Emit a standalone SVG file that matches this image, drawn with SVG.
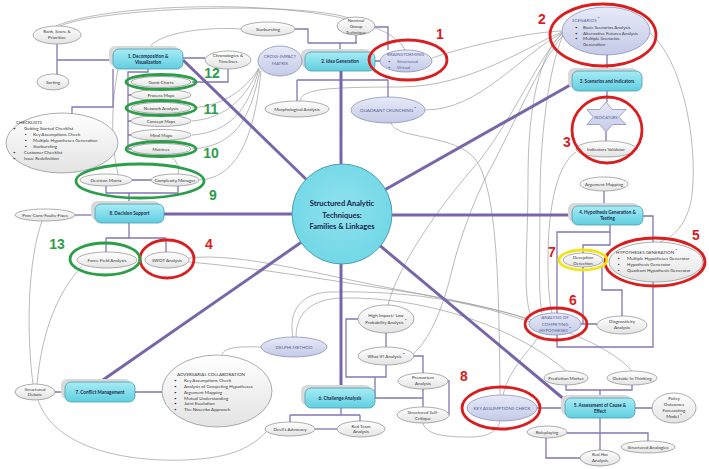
<svg xmlns="http://www.w3.org/2000/svg" width="709" height="469" viewBox="0 0 709 469">
<defs>
<linearGradient id="gc" x1="0" y1="0" x2="0" y2="1"><stop offset="0" stop-color="#a8ecf5"/><stop offset="1" stop-color="#60cee0"/></linearGradient>
<radialGradient id="gcc" cx="0.5" cy="0.45" r="0.6"><stop offset="0" stop-color="#8fe2ee"/><stop offset="1" stop-color="#6fd6e6"/></radialGradient>
<linearGradient id="gw" x1="0" y1="0" x2="0" y2="1"><stop offset="0" stop-color="#ffffff"/><stop offset="1" stop-color="#e3e3e3"/></linearGradient>
<linearGradient id="gl" x1="0" y1="0" x2="0" y2="1"><stop offset="0" stop-color="#e8eaf8"/><stop offset="1" stop-color="#c4cae7"/></linearGradient>
<style>
.fam{fill:url(#gc);stroke:#4c9db0;stroke-width:0.8}
.sh{fill:#d9d9d9}
.ft{font-family:Lato,'Liberation Sans',sans-serif;font-weight:bold;font-size:4.6px;fill:#1b2a4e;text-anchor:middle}
.w{fill:url(#gw);stroke:#8a8a8a;stroke-width:0.7}
.lv{fill:url(#gl);stroke:#7f86ad;stroke-width:0.7}
.t{font-family:Lato,'Liberation Sans',sans-serif;font-size:4.5px;fill:#3a3a3a;text-anchor:middle}
.tl{font-family:Lato,'Liberation Sans',sans-serif;font-size:4.5px;fill:#3a3a3a}
.tb{font-family:Lato,'Liberation Sans',sans-serif;font-size:4.5px;fill:#55649c;text-anchor:middle}
.tbl{font-family:Lato,'Liberation Sans',sans-serif;font-size:4.5px;fill:#55649c}
.sp{stroke:#7866a8;stroke-width:3;fill:none}
.pc{stroke:#8575b3;stroke-width:1.3;fill:none}
.gcv{stroke:#9c9c9c;stroke-width:0.7;fill:none}
.red{fill:none;stroke:#d81e1e;stroke-width:2.8}
.grn{fill:none;stroke:#2c9e4a;stroke-width:2.8}
.yel{fill:none;stroke:#efe31a;stroke-width:2.8}
.rn{font-family:'Liberation Sans',sans-serif;font-weight:bold;font-size:14px;fill:#d81e1e;text-anchor:middle}
.gn{font-family:'Liberation Sans',sans-serif;font-weight:bold;font-size:14px;fill:#2c9e4a;text-anchor:middle}
.ct{font-family:Lato,'Liberation Sans',sans-serif;font-weight:bold;font-size:7.5px;fill:#16244a;text-anchor:middle}
.st{font-weight:bold;fill:#111}
</style>
</defs>
<rect width="709" height="469" fill="#ffffff"/>

<g id="connectors">
<g id="cross-links">
<path class="gcv" d="M60,26 C110,6 300,2 349,18"/>
<path class="gcv" d="M56,26 C120,-2 380,-4 405,50"/>
<path class="gcv" d="M148,49 C160,30 215,27 241,29"/>
<path class="gcv" d="M432,58 C470,45 530,32 562,31"/>
<path class="gcv" d="M300,101 C302,90 320,87 400,87 C470,87 530,45 562,32"/>
<path class="gcv" d="M425,110 C480,110 520,55 562,33"/>
<path class="gcv" d="M391,123 C396,140 455,133 476,160 C496,190 499,270 500,395"/>
<path class="gcv" d="M562,33 C535,60 528,120 528,180 C528,250 522,290 531,317"/>
<path class="gcv" d="M563,35 C548,70 540,140 540,200 C540,260 538,290 542,313"/>
<path class="gcv" d="M650,33 C682,60 698,140 692,195 C688,225 672,238 660,242"/>
<path class="gcv" d="M576,152 C556,165 548,210 548,260 C548,290 550,305 552,313"/>
<path class="gcv" d="M259,68 C245,90 225,105 192,108"/>
<path class="gcv" d="M259,68 C245,100 225,118 192,121"/>
<path class="gcv" d="M259,69 C248,110 230,132 192,135"/>
<path class="gcv" d="M260,70 C250,120 235,146 192,149"/>
<path class="gcv" d="M261,71 C255,130 240,178 199,180"/>
<path class="gcv" d="M118,69 C110,110 112,150 118,174"/>
<path class="gcv" d="M168,154 C176,160 180,166 178,174"/>
<path class="gcv" d="M189,258 C240,252 320,275 400,290 C460,302 505,310 529,320"/>
<path class="gcv" d="M293,337 C288,312 300,293 330,292 C420,290 480,305 530,322"/>
<path class="gcv" d="M296,337 C296,318 306,300 340,298 C430,296 520,330 566,371"/>
<path class="gcv" d="M189,262 C260,268 340,282 420,294 C510,310 600,335 632,371"/>
<path class="gcv" d="M33,384 C26,330 28,260 42,221"/>
<path class="gcv" d="M37,384 C42,330 58,292 82,266"/>
<path class="gcv" d="M38,400 C55,450 130,462 185,460 C235,458 252,446 266,432"/>
<path class="gcv" d="M222,356 C222,348 236,346 261,347"/>
<path class="gcv" d="M423,423 C426,435 445,437 470,437 C490,437 498,430 500,421"/>
<path class="gcv" d="M388,305 C398,265 440,205 480,160 C515,115 540,55 562,34"/>
<path class="gcv" d="M413,354 C432,338 445,300 452,270 C462,230 478,190 495,160 C518,115 542,60 563,35"/>
<path class="gcv" d="M503,395 C508,370 530,350 540,335"/>
</g>
<g id="tree-links">
<path class="pc" d="M57,44 V75 M57,60 H113"/>
<path class="pc" d="M183,58 H205 M228,69 V82 H192"/>
<path class="pc" d="M148,69 V72 H128 V149 M128,95 H131 M128,121 H131 M128,135 H131 M128,149 H131"/>
<path class="pc" d="M113,69 V107 H72 V114"/>
<path class="pc" d="M132,180 H151 M106,186 V193 H178 V186 M129,193 V204"/>
<path class="pc" d="M75,215 H95"/>
<path class="pc" d="M129,223 V238 M106,238 H166 M106,238 V252 M166,238 V252"/>
<path class="pc" d="M295,29 H308 V43 M308,43 H357 M356,35 V43 M340,43 V52"/>
<path class="pc" d="M375,27 H388 V50"/>
<path class="pc" d="M302,61 H305 M375,61 H380"/>
<path class="pc" d="M297,80 H388 M297,80 V101 M388,80 V97"/>
<path class="pc" d="M607,55 V71 M607,91 V102 M606,132 V141"/>
<path class="pc" d="M604,191 V206"/>
<path class="pc" d="M643,216 H653 V242"/>
<path class="pc" d="M610,225 V232 H557 V347 H653 V282"/>
<path class="pc" d="M610,232 V245 H583 V253"/>
<path class="pc" d="M583,267 V324 M581,324 H597"/>
<path class="pc" d="M602,266 V290 H622 V316"/>
<path class="pc" d="M566,385 V390 H632 V385 M600,390 V398"/>
<path class="pc" d="M537,408 H565 M635,408 H652"/>
<path class="pc" d="M600,418 V450"/>
<path class="pc" d="M567,433 H648 V441"/>
<path class="pc" d="M546,438 V458 H580"/>
<path class="pc" d="M341,408 V415 M290,415 H360 M290,415 V422 M360,415 V421"/>
<path class="pc" d="M315,429 H337"/>
<path class="pc" d="M358,319 H346 V377 H386 V365 M386,333 V347"/>
<path class="pc" d="M375,377 V398 H423 M423,389 V407"/>
<path class="pc" d="M413,356 H423 V373"/>
<path class="pc" d="M448,381 H449 V415 H449"/>
<path class="pc" d="M55,392 H65 M135,392 H163"/>
</g>
<g id="spokes">
<path class="sp" d="M183,60 L342,214"/>
<path class="sp" d="M341,71 L341,214"/>
<path class="sp" d="M572,84 L342,214"/>
<path class="sp" d="M572,215 L342,215"/>
<path class="sp" d="M565,400 L342,214"/>
<path class="sp" d="M341,388 L341,214"/>
<path class="sp" d="M100,382 L342,214"/>
<path class="sp" d="M164,214 L342,214"/>
</g>
</g>

<g id="center">
<circle cx="342" cy="214" r="50" fill="url(#gcc)" stroke="#4fa0b0" stroke-width="1"/>
<text class="ct" x="342" y="206">Structured Analytic</text>
<text class="ct" x="342" y="217.5">Techniques:</text>
<text class="ct" x="342" y="229">Families &amp; Linkages</text>
</g>

<g id="family1"><rect class="sh" x="109" y="46" width="70" height="20" rx="6"/><rect class="fam" x="113" y="49" width="70" height="20" rx="6"/><text class="ft" x="148" y="57.6">1. Decomposition &amp;</text><text class="ft" x="148" y="63.5">Visualization</text></g>
<g id="family2"><rect class="sh" x="301" y="49" width="70" height="19" rx="6"/><rect class="fam" x="305" y="52" width="70" height="19" rx="6"/><text class="ft" x="340" y="63.2">2. Idea Generation</text></g>
<g id="family3"><rect class="sh" x="568" y="68" width="70" height="20" rx="6"/><rect class="fam" x="572" y="71" width="70" height="20" rx="6"/><text class="ft" x="607" y="82.6">3. Scenarios and Indicators</text></g>
<g id="family4"><rect class="sh" x="568" y="203" width="71" height="19" rx="6"/><rect class="fam" x="572" y="206" width="71" height="19" rx="6"/><text class="ft" x="607.5" y="214.3">4. Hypothesis Generation &amp;</text><text class="ft" x="607.5" y="220.2">Testing</text></g>
<g id="family5"><rect class="sh" x="561" y="395" width="70" height="20" rx="6"/><rect class="fam" x="565" y="398" width="70" height="20" rx="6"/><text class="ft" x="600" y="406.6">5. Assessment of Cause &amp;</text><text class="ft" x="600" y="412.5">Effect</text></g>
<g id="family6"><rect class="sh" x="301" y="385" width="70" height="20" rx="6"/><rect class="fam" x="305" y="388" width="70" height="20" rx="6"/><text class="ft" x="340" y="399.6">6. Challenge Analysis</text></g>
<g id="family7"><rect class="sh" x="61" y="379" width="70" height="20" rx="6"/><rect class="fam" x="65" y="382" width="70" height="20" rx="6"/><text class="ft" x="100" y="393.6">7. Conflict Management</text></g>
<g id="family8"><rect class="sh" x="91" y="201" width="69" height="19" rx="6"/><rect class="fam" x="95" y="204" width="69" height="19" rx="6"/><text class="ft" x="129.5" y="215.2">8. Decision Support</text></g>

<g id="rank"><ellipse class="w" cx="57" cy="35" rx="24" ry="9"/><text class="t" x="57" y="33.3">Rank, Score &amp;</text><text class="t" x="57" y="39.3">Prioritize</text></g>
<g id="sorting"><ellipse class="w" cx="53" cy="82" rx="16" ry="8"/><text class="t" x="53" y="83.6">Sorting</text></g>
<g id="checklists"><ellipse class="w" cx="62" cy="143" rx="56" ry="30"/>
<text class="tl" x="16" y="123.5">CHECKLISTS</text>
<text class="tl" x="13" y="129.5">•</text><text class="tl" x="24" y="129.5">Getting Started Checklist</text>
<text class="tl" x="25" y="135.5">▪</text><text class="tl" x="33" y="135.5">Key Assumptions Check</text>
<text class="tl" x="25" y="141.5">▪</text><text class="tl" x="33" y="141.5">Multiple Hypotheses Generation</text>
<text class="tl" x="25" y="147.5">▪</text><text class="tl" x="33" y="147.5">Starbursting</text>
<text class="tl" x="13" y="153.5">•</text><text class="tl" x="24" y="153.5">Customer Checklist</text>
<text class="tl" x="13" y="159.5">•</text><text class="tl" x="24" y="159.5">Issue Redefinition</text></g>
<g id="gantt"><ellipse class="w" cx="161" cy="82" rx="30" ry="5.5"/><text class="t" x="161" y="83.6">Gantt Charts</text></g>
<g id="process"><ellipse class="w" cx="161" cy="95" rx="30" ry="5.5"/><text class="t" x="161" y="96.6">Process Maps</text></g>
<g id="network"><ellipse class="w" cx="161" cy="108" rx="30" ry="5.5"/><text class="t" x="161" y="109.6">Network Analysis</text></g>
<g id="concept"><ellipse class="w" cx="161" cy="121" rx="30" ry="5.5"/><text class="t" x="161" y="122.6">Concept Maps</text></g>
<g id="mind"><ellipse class="w" cx="161" cy="135" rx="30" ry="5.5"/><text class="t" x="161" y="136.6">Mind Maps</text></g>
<g id="matrices"><ellipse class="w" cx="161" cy="149" rx="30" ry="5.5"/><text class="t" x="161" y="150.6">Matrices</text></g>
<g id="chronologies"><ellipse class="w" cx="228" cy="60" rx="23" ry="9"/><text class="t" x="228" y="57">Chronologies &amp;</text><text class="t" x="228" y="63.3">Timelines</text></g>
<g id="decision-matrix"><ellipse class="w" cx="106" cy="180" rx="26" ry="6"/><text class="t" x="106" y="181.6">Decision Matrix</text></g>
<g id="complexity"><ellipse class="w" cx="175" cy="180" rx="24" ry="6"/><text class="t" x="175" y="181.6">Complexity Manager</text></g>
<g id="pros-cons"><ellipse class="w" cx="45" cy="215" rx="30" ry="6"/><text class="t" x="45" y="216.6">Pros-Cons-Faults-Fixes</text></g>
<g id="force-field"><ellipse class="w" cx="107" cy="260" rx="30" ry="8"/><text class="t" x="107" y="261.6">Force Field Analysis</text></g>
<g id="swot"><ellipse class="w" cx="167" cy="260" rx="22" ry="8"/><text class="t" x="167" y="261.6">SWOT Analysis</text></g>

<g id="starbursting"><ellipse class="w" cx="268" cy="29" rx="27" ry="7"/><text class="t" x="268" y="30.6">Starbursting</text></g>
<g id="nominal"><ellipse class="w" cx="356" cy="26" rx="19" ry="9"/><text class="t" x="356" y="21.5">Nominal</text><text class="t" x="356" y="27.8">Group</text><text class="t" x="356" y="34">Technique</text></g>
<g id="cross-impact"><ellipse class="lv" cx="280" cy="61" rx="22" ry="15"/><text class="tb" x="280" y="58.3">CROSS-IMPACT</text><text class="tb" x="280" y="65">MATRIX</text></g>
<g id="brainstorming"><ellipse class="lv" cx="406" cy="61" rx="26" ry="11"/><text class="tbl" x="387" y="56.3">BRAINSTORMING</text><text class="tbl" x="388" y="62.8">•</text><text class="tbl" x="397" y="62.8">Structured</text><text class="tbl" x="388" y="69.3">•</text><text class="tbl" x="397" y="69.3">Virtual</text></g>
<g id="morphological"><ellipse class="w" cx="297" cy="109" rx="32" ry="8"/><text class="t" x="297" y="110.6">Morphological Analysis</text></g>
<g id="quadrant"><ellipse class="lv" cx="388" cy="110" rx="37" ry="13"/><text class="tb" x="388" y="111.6">QUADRANT CRUNCHING <tspan class="st" dy="-1.5">*</tspan></text></g>

<g id="scenarios"><ellipse class="lv" cx="606" cy="31" rx="44" ry="24"/><text class="tbl" x="572" y="21.5">SCENARIOS <tspan class="st" dy="-1.5">*</tspan></text>
<text class="tl" x="575" y="28.5">•</text><text class="tl" x="583" y="28.5">Basic Scenarios Analysis</text>
<text class="tl" x="575" y="34.5">•</text><text class="tl" x="583" y="34.5">Alternative Futures Analysis</text>
<text class="tl" x="575" y="40.3">•</text><text class="tl" x="583" y="40.3">Multiple Scenarios</text>
<text class="tl" x="583" y="46.2">Generation</text></g>
<g id="indicators"><polygon class="lv" points="606,102 612.3,109.5 626,109.5 618.7,117 626,124.5 612.3,124.5 606,132 599.7,124.5 587,124.5 593.3,117 587,109.5 599.7,109.5"/><text class="tb" x="606" y="118.5" style="font-size:4px">INDICATORS</text></g>
<g id="indicators-validator"><ellipse class="w" cx="606" cy="149" rx="30" ry="8"/><text class="t" x="606" y="150.6">Indicators Validator</text></g>

<g id="argument-mapping"><ellipse class="w" cx="604" cy="184" rx="24" ry="7"/><text class="t" x="604" y="185.6">Argument Mapping</text></g>
<g id="deception"><ellipse class="w" cx="583" cy="260" rx="20" ry="7"/><text class="t" x="583" y="258.8">Deception</text><text class="t" x="583" y="264.8">Detection</text></g>
<g id="hypotheses-generation"><ellipse class="w" cx="656" cy="262" rx="47" ry="20"/><text class="tl" x="616" y="253.5">HYPOTHESES GENERATION <tspan class="st" dy="-1.5">*</tspan></text>
<text class="tl" x="618" y="260.3">▪</text><text class="tl" x="627" y="260.3">Multiple Hypotheses Generator</text>
<text class="tl" x="618" y="266.3">▪</text><text class="tl" x="627" y="266.3">Hypothesis Generator</text>
<text class="tl" x="618" y="272">▪</text><text class="tl" x="627" y="272">Quadrant Hypothesis Generator</text></g>
<g id="ach"><ellipse class="lv" cx="555" cy="324" rx="26" ry="11"/><text class="tb" x="555" y="319.2">ANALYSIS OF</text><text class="tb" x="555" y="325.5">COMPETING</text><text class="tb" x="555" y="331.6">HYPOTHESES <tspan class="st" dy="-1.2">*</tspan></text></g>
<g id="diagnosticity"><ellipse class="w" cx="622" cy="325" rx="25" ry="9"/><text class="t" x="622" y="323">Diagnosticity</text><text class="t" x="622" y="329.4">Analysis</text></g>

<g id="prediction-market"><ellipse class="w" cx="566" cy="378" rx="22" ry="7"/><text class="t" x="566" y="379.6">Prediction Market</text></g>
<g id="outside-in"><ellipse class="w" cx="632" cy="378" rx="25" ry="7"/><text class="t" x="632" y="379.6">Outside-In Thinking</text></g>
<g id="key-assumptions"><ellipse class="lv" cx="502" cy="408" rx="35" ry="13"/><text class="tb" x="502" y="409.6">KEY ASSUMPTIONS CHECK</text></g>
<g id="policy"><ellipse class="w" cx="674" cy="408" rx="22" ry="15"/><text class="t" x="674" y="399.6">Policy</text><text class="t" x="674" y="405.6">Outcomes</text><text class="t" x="674" y="411.6">Forecasting</text><text class="t" x="674" y="418">Model <tspan class="st" dy="-1.2">*</tspan></text></g>
<g id="roleplaying"><ellipse class="w" cx="547" cy="432" rx="20" ry="6"/><text class="t" x="547" y="433.6">Roleplaying</text></g>
<g id="structured-analogies"><ellipse class="w" cx="648" cy="447" rx="27" ry="6"/><text class="t" x="648" y="448.6">Structured Analogies</text></g>
<g id="red-hat"><ellipse class="w" cx="600" cy="458" rx="20" ry="8"/><text class="t" x="600" y="455.6">Red Hat</text><text class="t" x="600" y="462">Analysis</text></g>

<g id="high-impact"><ellipse class="w" cx="386" cy="319" rx="28" ry="14"/><text class="t" x="386" y="316.5">High Impact/ Low</text><text class="t" x="386" y="323.5">Probability Analysis <tspan class="st" dy="-1.2">*</tspan></text></g>
<g id="what-if"><ellipse class="w" cx="386" cy="356" rx="28" ry="9"/><text class="t" x="386" y="357.5">What If? Analysis <tspan class="st" dy="-1.2">*</tspan></text></g>
<g id="premortem"><ellipse class="w" cx="423" cy="381" rx="25" ry="8"/><text class="t" x="423" y="379">Premortem</text><text class="t" x="423" y="385">Analysis</text></g>
<g id="self-critique"><ellipse class="w" cx="423" cy="415" rx="26" ry="8"/><text class="t" x="423" y="414">Structured Self-</text><text class="t" x="423" y="420">Critique</text></g>
<g id="devils-advocacy"><ellipse class="w" cx="290" cy="429" rx="25" ry="7"/><text class="t" x="290" y="430.6">Devil's Advocacy</text></g>
<g id="red-team"><ellipse class="w" cx="361" cy="429" rx="24" ry="8"/><text class="t" x="361" y="427.5">Red Team</text><text class="t" x="361" y="433.3">Analysis</text></g>
<g id="delphi"><ellipse class="lv" cx="294" cy="347" rx="33" ry="10"/><text class="tb" x="294" y="348.6">DELPHI METHOD</text></g>

<g id="structured-debate"><ellipse class="w" cx="35" cy="392" rx="20" ry="8"/><text class="t" x="35" y="390.5">Structured</text><text class="t" x="35" y="396.2">Debate</text></g>
<g id="adversarial"><ellipse class="w" cx="217" cy="391" rx="55" ry="36"/>
<text class="tl" x="177" y="375.5">ADVERSARIAL COLLABORATION</text>
<text class="tl" x="174" y="381.5">•</text><text class="tl" x="184" y="381.5">Key Assumptions Check</text>
<text class="tl" x="174" y="387.5">•</text><text class="tl" x="184" y="387.5">Analysis of Competing Hypotheses</text>
<text class="tl" x="174" y="393.5">•</text><text class="tl" x="184" y="393.5">Argument Mapping</text>
<text class="tl" x="174" y="399.5">•</text><text class="tl" x="184" y="399.5">Mutual Understanding</text>
<text class="tl" x="174" y="405.3">•</text><text class="tl" x="184" y="405.3">Joint Escalation</text>
<text class="tl" x="174" y="411">•</text><text class="tl" x="184" y="411">The Nosenko Approach</text></g>

<g id="highlights">
<ellipse class="red" cx="408" cy="60" rx="39" ry="20"/>
<ellipse class="red" cx="603" cy="35" rx="53" ry="31"/>
<ellipse class="red" cx="607" cy="130" rx="35" ry="33"/>
<ellipse class="red" cx="167" cy="259" rx="27" ry="19"/>
<ellipse class="red" cx="655" cy="262" rx="50" ry="24"/>
<ellipse class="red" cx="556" cy="324" rx="31" ry="16"/>
<ellipse class="red" cx="501" cy="408" rx="39" ry="21"/>
<ellipse class="grn" cx="161" cy="82" rx="35" ry="7.5"/>
<ellipse class="grn" cx="161" cy="108" rx="35" ry="7.5"/>
<ellipse class="grn" cx="161" cy="149" rx="35" ry="7.5"/>
<ellipse class="grn" cx="140" cy="181" rx="64" ry="17"/>
<ellipse class="grn" cx="105" cy="259" rx="35" ry="16"/>
<ellipse class="yel" cx="583" cy="260" rx="24" ry="10"/>
<text class="rn" x="440" y="39">1</text>
<text class="rn" x="542" y="24">2</text>
<text class="rn" x="567" y="147">3</text>
<text class="rn" x="209" y="249">4</text>
<text class="rn" x="696" y="240">5</text>
<text class="rn" x="573" y="305">6</text>
<text class="rn" x="552" y="257">7</text>
<text class="rn" x="464" y="381">8</text>
<text class="gn" x="213" y="200">9</text>
<text class="gn" x="211" y="158">10</text>
<text class="gn" x="211" y="114">11</text>
<text class="gn" x="212" y="78">12</text>
<text class="gn" x="57" y="249">13</text>
</g>
</svg>
